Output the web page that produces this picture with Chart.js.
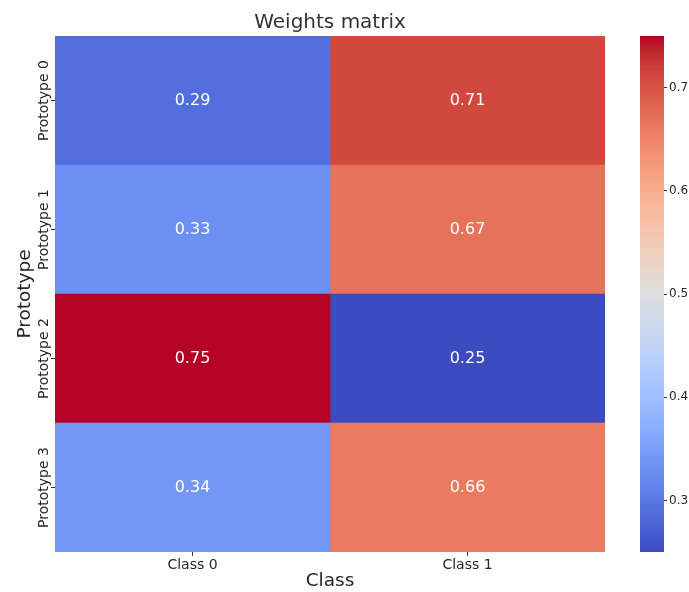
<!DOCTYPE html>
<html>
<head>
<meta charset="utf-8">
<script src="https://cdn.jsdelivr.net/npm/chart.js@4"></script>
<style>
  body { margin: 0; background: #fff; }
  #wrap { position: relative; width: 689px; height: 592px; overflow: hidden; }
  #wrap canvas { position: absolute; left: 0; top: 0; }
</style>
</head>
<body>
<div id="wrap">
  <canvas id="heat" width="689" height="592"></canvas>
  <canvas id="bar" width="689" height="592"></canvas>
</div>
<script>
const classLabels = ['Class 0', 'Class 1'];
const protoLabels = ['Prototype 0', 'Prototype 1', 'Prototype 2', 'Prototype 3'];
const class0Weights = [0.29, 0.33, 0.75, 0.34];
const class1Weights = [0.71, 0.67, 0.25, 0.66];
const barTicks = [0.3, 0.4, 0.5, 0.6, 0.7];
const vmin = 0.25;
const vmax = 0.75;

// coolwarm lookup, 33 evenly spaced stops
const coolwarm = [
  [59,76,192],[68,90,204],[77,104,215],[87,117,225],[98,130,234],[108,142,241],
  [119,154,247],[130,165,251],[141,176,254],[152,185,255],[163,194,255],[174,201,253],
  [184,208,249],[194,213,244],[204,217,238],[213,219,230],[221,221,221],[229,216,209],
  [236,211,197],[241,204,184],[245,196,172],[247,187,159],[247,177,147],[247,166,134],
  [244,154,123],[241,141,111],[236,127,99],[229,112,88],[222,96,77],[213,80,66],
  [203,62,56],[192,40,47],[180,4,38]
];

function cmap(t) {
  t = Math.min(1, Math.max(0, t));
  const p = t * (coolwarm.length - 1);
  const i = Math.min(coolwarm.length - 2, Math.floor(p));
  const f = p - i;
  const a = coolwarm[i], b = coolwarm[i + 1];
  const c = a.map((v, k) => Math.round(v + (b[k] - v) * f));
  return 'rgb(' + c.join(',') + ')';
}

function colorFor(v) {
  return cmap((v - vmin) / (vmax - vmin));
}

const textColor = '#262626';
const font = 'DejaVu Sans';
Chart.defaults.font.family = font;
Chart.defaults.color = textColor;

const columns = [class0Weights, class1Weights];

// cell values in the middle of each cell, plus the upright row labels
const cellLabels = {
  id: 'cellLabels',
  afterDatasetsDraw(chart) {
    const ctx = chart.ctx;
    const xs = chart.scales.x, ys = chart.scales.y;
    ctx.save();
    ctx.fillStyle = '#fff';
    ctx.font = '16px "' + font + '"';
    ctx.textAlign = 'center';
    ctx.textBaseline = 'middle';
    columns.forEach((col, c) => {
      col.forEach((v, r) => {
        ctx.fillText(v.toFixed(2), xs.getPixelForValue(c + 0.5), ys.getPixelForValue(r));
      });
    });
    ctx.fillStyle = textColor;
    ctx.font = '14px "' + font + '"';
    protoLabels.forEach((lab, r) => {
      ctx.save();
      ctx.translate(ys.right - 11, ys.getPixelForValue(r));
      ctx.rotate(-Math.PI / 2);
      ctx.fillText(lab, 0, 0);
      ctx.restore();
    });
    ctx.restore();
  }
};

new Chart(document.getElementById('heat'), {
  type: 'bar',
  data: {
    labels: protoLabels,
    datasets: columns.map((col, c) => ({
      label: classLabels[c],
      data: col.map(() => [c, c + 1]),
      backgroundColor: col.map(colorFor),
      borderWidth: 0,
      barPercentage: 1,
      categoryPercentage: 1,
      grouped: false
    }))
  },
  options: {
    indexAxis: 'y',
    responsive: false,
    animation: false,
    layout: { padding: { left: 0, right: 84, top: 0, bottom: 0 } },
    plugins: {
      legend: { display: false },
      tooltip: { enabled: false },
      title: {
        display: true,
        text: 'Weights matrix',
        fullSize: false,
        color: '#333',
        font: { size: 20, weight: 'normal' },
        padding: { top: 11, bottom: 1 }
      }
    },
    scales: {
      x: {
        type: 'linear',
        min: 0,
        max: 2,
        afterBuildTicks: (s) => { s.ticks = [0.5, 1.5].map(v => ({ value: v })); },
        afterFit: (s) => { s.height = 40; },
        ticks: {
          callback: (v) => classLabels[Math.floor(v)],
          font: { size: 14 },
          padding: 1,
          maxRotation: 0
        },
        grid: { drawOnChartArea: false, drawTicks: true, tickLength: 4, tickColor: '#333' },
        border: { display: false },
        title: { display: true, text: 'Class', font: { size: 18.5 }, padding: { top: 0, bottom: 0 } }
      },
      y: {
        type: 'category',
        offset: true,
        afterFit: (s) => { s.width = 55; },
        ticks: { display: false },
        grid: { offset: false, drawOnChartArea: false, drawTicks: true, tickLength: 4, tickColor: '#333' },
        border: { display: false },
        title: { display: true, text: 'Prototype', font: { size: 18.5 }, padding: { top: 14, bottom: 0 } }
      }
    }
  },
  plugins: [cellLabels]
});

// tick labels to the right of the colour bar
const barLabels = {
  id: 'barLabels',
  afterDraw(chart) {
    const ctx = chart.ctx;
    const ys = chart.scales.y;
    ctx.save();
    ctx.fillStyle = textColor;
    ctx.font = '12px "' + font + '"';
    ctx.textAlign = 'left';
    ctx.textBaseline = 'middle';
    barTicks.forEach(v => {
      ctx.fillText(v.toFixed(1), chart.chartArea.right + 5, ys.getPixelForValue(v));
    });
    ctx.restore();
  }
};

// colour bar, drawn on a transparent canvas laid over the heatmap
new Chart(document.getElementById('bar'), {
  type: 'bar',
  data: {
    labels: [''],
    datasets: [{
      data: [[vmin, vmax]],
      borderWidth: 0,
      barPercentage: 1,
      categoryPercentage: 1,
      backgroundColor: (ctx) => {
        const area = ctx.chart.chartArea;
        if (!area) return colorFor(0.5);
        const g = ctx.chart.ctx.createLinearGradient(0, area.bottom, 0, area.top);
        for (let i = 0; i < coolwarm.length; i++) {
          g.addColorStop(i / (coolwarm.length - 1), cmap(i / (coolwarm.length - 1)));
        }
        return g;
      }
    }]
  },
  options: {
    responsive: false,
    animation: false,
    layout: { padding: { left: 640, right: 0, top: 36, bottom: 40 } },
    plugins: { legend: { display: false }, tooltip: { enabled: false } },
    scales: {
      x: { display: false },
      y: {
        type: 'linear',
        position: 'right',
        min: vmin,
        max: vmax,
        afterBuildTicks: (s) => { s.ticks = barTicks.map(v => ({ value: v })); },
        afterFit: (s) => { s.width = 25; },
        ticks: { display: false },
        grid: { drawOnChartArea: false, drawTicks: true, tickLength: 3, tickColor: '#333' },
        border: { display: false }
      }
    }
  },
  plugins: [barLabels]
});
</script>
</body>
</html>
